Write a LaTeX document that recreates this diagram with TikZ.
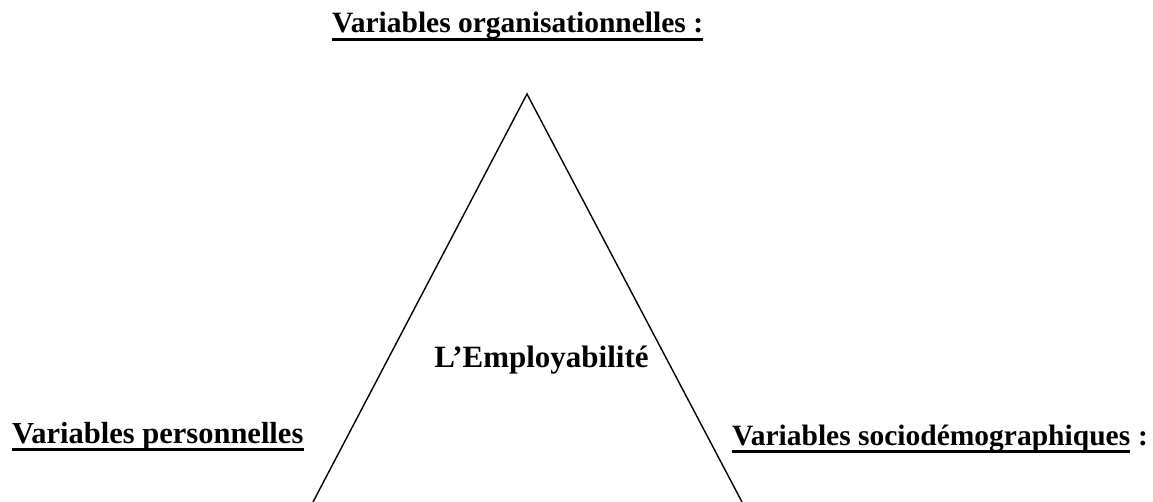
\documentclass[tikz,border=0pt]{standalone}
\usepackage{fontspec}
\setmainfont{Liberation Serif}
\begin{document}
\begin{tikzpicture}[x=1pt,y=1pt,
  lbl/.style={inner sep=0pt, anchor=base west, font=\fontsize{29.5}{34}\selectfont\bfseries},
  ul/.style={line width=2.6pt},
  edge/.style={line width=1.4pt}]
\useasboundingbox (0,0) rectangle (1153,501);
% triangle
\coordinate (apex) at (527,407);
\coordinate (bl) at (313,-1);
\coordinate (br) at (742,-1);
\draw[edge] (bl) -- (apex) -- (br);
% labels
\node[lbl] (top) at (332,468) {Variables organisationnelles :};
\draw[ul] ([yshift=-6.5pt]top.base west) -- ([yshift=-6.5pt]top.base east);
\node[lbl, font=\fontsize{30.5}{34}\selectfont\bfseries] (left) at (12,58) {Variables personnelles\ };
\draw[ul] ([yshift=-6.5pt]left.base west) -- ([yshift=-6.5pt]left.base east);
\node[lbl] (right) at (732,56) {Variables sociodémographiques};
\draw[ul] ([yshift=-6.5pt]right.base west) -- ([yshift=-6.5pt]right.base east);
\node[lbl, anchor=base west] (colon) at (right.base east) {\ :};
\node[lbl, anchor=base, font=\fontsize{31}{34}\selectfont\bfseries] (center) at (541.5,134) {L’Employabilité};
\end{tikzpicture}
\end{document}
